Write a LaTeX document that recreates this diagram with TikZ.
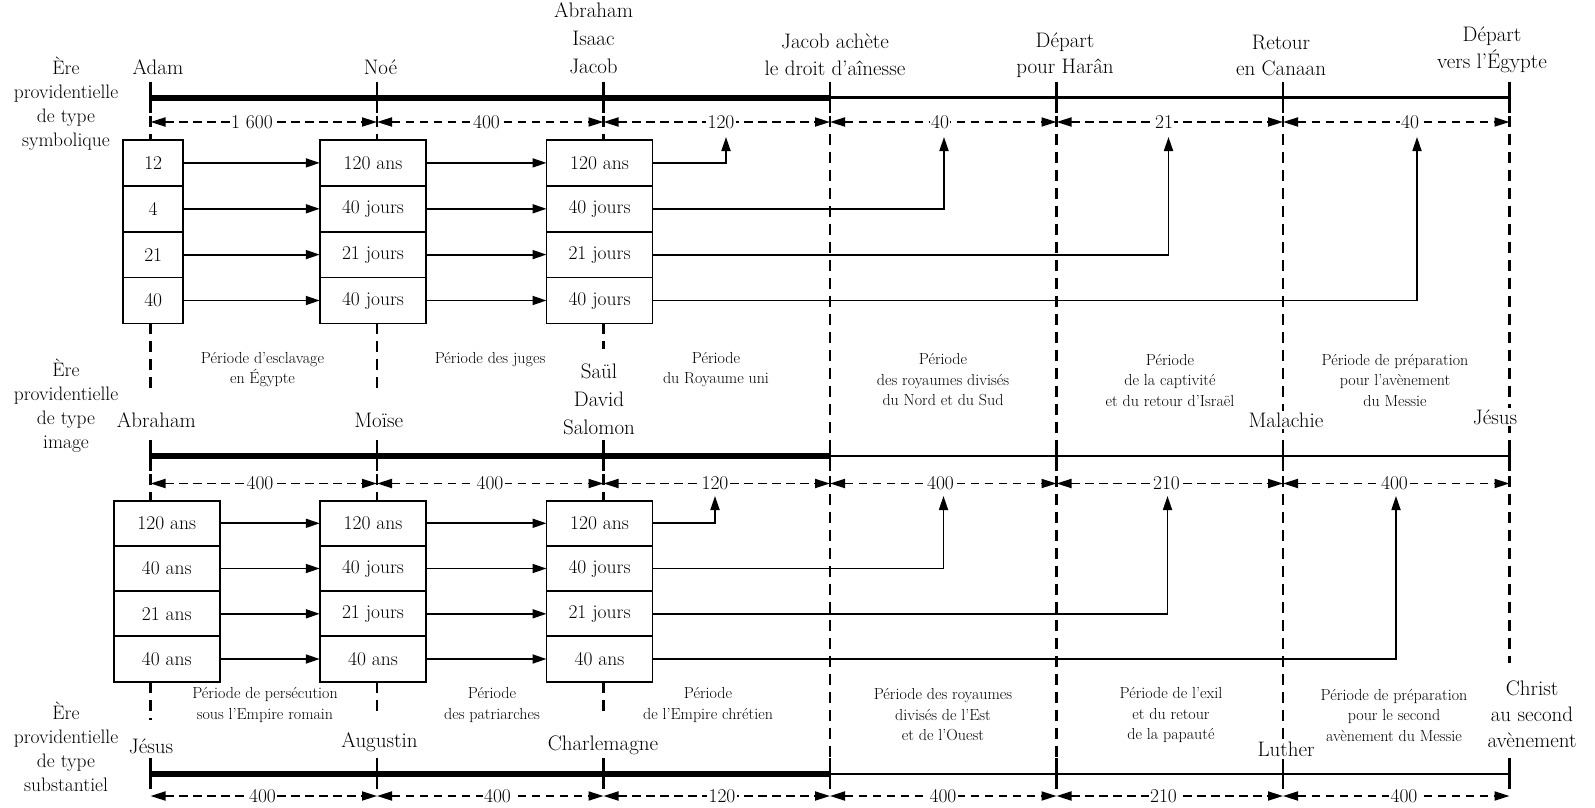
\documentclass[tikz,border=0pt]{standalone}
\usetikzlibrary{arrows.meta}
\newcommand\namefont{\fontsize{21}{26.5}\selectfont}
\newcommand\namefontb{\fontsize{21}{28}\selectfont}
\newcommand\erafont{\fontsize{19.5}{24}\selectfont}
\newcommand\perfont{\fontsize{16}{20.5}\selectfont}
\newcommand\numfont{\fontsize{19.5}{22}\selectfont}
\tikzset{
  colline/.style={line width=2.6pt, dash pattern=on 11pt off 7pt},
  thickaxis/.style={line width=6pt},
  thinaxis/.style={line width=2.2pt},
  tickmark/.style={line width=2.7pt},
  spanarr/.style={line width=1.8pt, dash pattern=on 8.5pt off 5.5pt,
    arrows={Triangle[length=15pt,width=9pt]-Triangle[length=15pt,width=9pt]}},
  conn/.style={line width=1.8pt, arrows={-Triangle[length=14pt,width=9pt]}},
  cell/.style={draw, line width=1.8pt, fill=white, inner sep=0pt, outer sep=0pt, font=\numfont},
  lbl/.style={font=\namefont, align=center, fill=white, inner sep=1.5pt},
  era/.style={font=\erafont, align=center, inner sep=0pt},
  per/.style={font=\perfont, align=center, inner sep=0pt},
  num/.style={font=\numfont, fill=white, inner sep=1.5pt},
}
\begin{document}
\begin{tikzpicture}[x=1pt,y=-1pt]
\useasboundingbox (0,0) rectangle (1595,808);
% ---------- coordinates ----------
\foreach \i/\x in {0/150.5,1/377,2/603.5,3/830,4/1056.5,5/1283,6/1509.5}{
  \coordinate (a1c\i) at (\x,97.5);
  \coordinate (a2c\i) at (\x,456);
  \coordinate (a3c\i) at (\x,774);
  \coordinate (r1c\i) at (\x,122);
  \coordinate (r2c\i) at (\x,483.5);
  \coordinate (r3c\i) at (\x,796);
}
\coordinate (s1top) at (0,140);
\coordinate (s1bot) at (0,323.3);
\coordinate (s2top) at (0,500.7);
\coordinate (s2bot) at (0,681.7);
\coordinate (e0) at (0,392);
\coordinate (e1) at (0,394);
\coordinate (e2) at (0,349);
\coordinate (f0) at (0,720);
\coordinate (f1) at (0,715);
\coordinate (f2) at (0,715);
\coordinate (g6) at (0,663);
% ---------- column dashed lines ----------
\foreach \i/\e/\f in {0/e0/f0,1/e1/f1,2/e2/f2}{
  \draw[colline] (a1c\i) -- (a1c\i |- s1top);
  \draw[colline] (a1c\i |- s1bot) -- (a1c\i |- \e);
  \draw[colline] (a2c\i) -- (a2c\i |- s2top);
  \draw[colline] (a2c\i |- s2bot) -- (a2c\i |- \f);
}
\foreach \i in {3,4,5}{
  \draw[colline] (a1c\i) -- (a3c\i);
}
\draw[colline] (a1c6) -- (a1c6 |- g6);
% ---------- axes ----------
\foreach \a in {1,2,3}{
  \draw[thickaxis] (a\a c0) -- (a\a c3);
  \draw[thinaxis] (a\a c3) -- (a\a c6);
  \foreach \i in {0,...,6}{
    \draw[tickmark] ([yshift=16pt]a\a c\i) -- ([yshift=-15pt]a\a c\i);
  }
}
% ---------- span arrows ----------
\foreach \r in {1,2,3}{
  \foreach \i/\j in {0/1,1/2,2/3,3/4,4/5,5/6}{
    \draw[spanarr] (r\r c\i) -- (r\r c\j);
  }
}
\node[num] (n11) at (252,122) {1 600};
\node[num] (n12) at (486.5,122) {400};
\node[num] (n13) at (721,122) {120};
\node[num] (n14) at (940,122) {40};
\node[num] (n15) at (1164,122) {21};
\node[num] (n16) at (1410,122) {40};
\node[num] (n21) at (260,483.5) {400};
\node[num] (n22) at (490,483.5) {400};
\node[num] (n23) at (715,483.5) {120};
\node[num] (n24) at (940.5,483.5) {400};
\node[num] (n25) at (1166.5,483.5) {210};
\node[num] (n26) at (1394.5,483.5) {400};
\node[num] (n31) at (262.5,796) {400};
\node[num] (n32) at (497.5,796) {400};
\node[num] (n33) at (722,796) {120};
\node[num] (n34) at (943,796) {400};
\node[num] (n35) at (1163.5,796) {210};
\node[num] (n36) at (1404,796) {400};
% ---------- boxes section 1 ----------
\foreach \r/\y/\ta/\tb/\tc in {1/162.9/12/120 ans/120 ans, 2/208.8/4/40 jours/40 jours, 3/254.6/21/21 jours/21 jours, 4/300.5/40/40 jours/40 jours}{
  \node[cell, minimum width=60pt, minimum height=45.85pt] (sA\r) at (153.2,\y) {\ta};
  \node[cell, minimum width=106.5pt, minimum height=45.85pt] (sB\r) at (373,\y) {\tb};
  \node[cell, minimum width=106pt, minimum height=45.85pt] (sC\r) at (599.5,\y) {\tc};
}
% ---------- boxes section 2 ----------
\foreach \r/\y/\ta/\tb/\tc in {1/523.3/120 ans/120 ans/120 ans, 2/568.5/40 ans/40 jours/40 jours, 3/613.8/21 ans/21 jours/21 jours, 4/659.0/40 ans/40 ans/40 ans}{
  \node[cell, minimum width=106pt, minimum height=45.25pt] (tA\r) at (166.7,\y) {\ta};
  \node[cell, minimum width=106.5pt, minimum height=45.25pt] (tB\r) at (373,\y) {\tb};
  \node[cell, minimum width=106pt, minimum height=45.25pt] (tC\r) at (599.5,\y) {\tc};
}
% ---------- connectors ----------
\coordinate (u11) at (726,137);
\coordinate (u12) at (944,137);
\coordinate (u13) at (1168.5,137);
\coordinate (u14) at (1417,137);
\coordinate (u21) at (715,496);
\coordinate (u22) at (943.5,496);
\coordinate (u23) at (1167.5,496);
\coordinate (u24) at (1396,496);
\foreach \r in {1,2,3,4}{
  \draw[conn] (sA\r.east) -- (sB\r.west);
  \draw[conn] (sB\r.east) -- (sC\r.west);
  \draw[conn] (sC\r.east) -| (u1\r);
  \draw[conn] (tA\r.east) -- (tB\r.west);
  \draw[conn] (tB\r.east) -- (tC\r.west);
  \draw[conn] (tC\r.east) -| (u2\r);
}
% ---------- era labels ----------
\node[era] (era1) at (66,104) {Ère\\providentielle\\de type\\symbolique};
\node[era] (era2) at (66,406) {Ère\\providentielle\\de type\\image};
\node[era] (era3) at (66,747) {Ère\\providentielle\\de type\\substantiel};
% ---------- names section 1 ----------
\node[lbl] (nAdam) at (158,67) {Adam};
\node[lbl] (nNoe) at (380.5,67) {Noé};
\node[lbl, font=\namefontb] (nAIJ) at (593.5,38.7) {Abraham\\Isaac\\Jacob};
\node[lbl] (nJacob) at (835,55) {Jacob achète\\le droit d’aînesse};
\node[lbl] (nHaran) at (1065,55) {Départ\\pour Harân};
\node[lbl] (nCanaan) at (1281,55.3) {Retour\\en Canaan};
\node[lbl] (nEgypte) at (1492,50) {Départ\\vers l’Égypte};
% ---------- names section 2 ----------
\node[lbl] (nAbraham) at (156.4,420) {Abraham};
\node[lbl] (nMoise) at (378.7,420) {Moïse};
\node[lbl, font=\namefontb] (nSDS) at (599,399) {Saül\\David\\Salomon};
\node[lbl] (nMalachie) at (1286,420) {Malachie};
\node[lbl] (nJesusB) at (1495,417) {Jésus};
% ---------- periods section 2 ----------
\node[per] (p21) at (262.5,369.7) {Période d’esclavage\\en Égypte};
\node[per] (p22) at (490,359.3) {Période des juges};
\node[per] (p23) at (716,369.7) {Période\\du Royaume uni};
\node[per] (p24) at (943,380) {Période\\des royaumes divisés\\du Nord et du Sud};
\node[per] (p25) at (1170,380) {Période\\de la captivité\\et du retour d’Israël};
\node[per] (p26) at (1395,380) {Période de préparation\\pour l’avènement\\du Messie};
% ---------- periods section 3 ----------
\node[per] (p31) at (265,705) {Période de persécution\\sous l’Empire romain};
\node[per] (p32) at (492,705) {Période\\des patriarches};
\node[per] (p33) at (708,705) {Période\\de l’Empire chrétien};
\node[per] (p34) at (943,715) {Période des royaumes\\divisés de l’Est\\et de l’Ouest};
\node[per] (p35) at (1171,715) {Période de l’exil\\et du retour\\de la papauté};
\node[per] (p36) at (1394,715) {Période de préparation\\pour le second\\avènement du Messie};
% ---------- names section 3 ----------
\node[lbl] (nJesusC) at (151,746) {Jésus};
\node[lbl] (nAugustin) at (379.5,742.6) {Augustin};
\node[lbl] (nCharlemagne) at (603,745.6) {Charlemagne};
\node[lbl] (nLuther) at (1286,749.7) {Luther};
\node[lbl, font=\fontsize{21}{26}\selectfont] (nChrist) at (1532,714) {Christ\\au second\\avènement};
\end{tikzpicture}
\end{document}
